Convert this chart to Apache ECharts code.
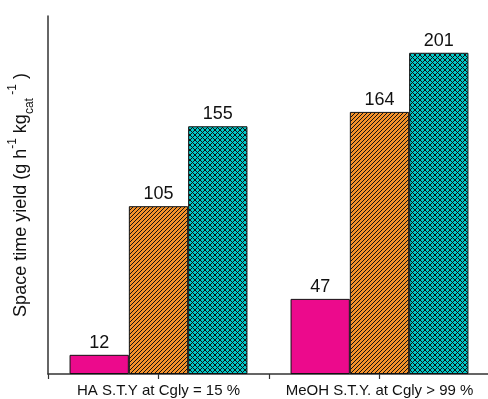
<!DOCTYPE html>
<html>
<head>
<meta charset="utf-8">
<script src="https://cdn.jsdelivr.net/npm/echarts@6/dist/echarts.min.js"></script>
<style>
  html, body { margin: 0; padding: 0; background: #fff; }
  #chart { width: 488px; height: 399px; }
</style>
</head>
<body>
<div id="chart"></div>
<script>
// Categories on the x axis
const categories = ['HA S.T.Y at Cgly = 15 %', 'MeOH S.T.Y. at Cgly > 99 %'];
// Space time yield per catalyst series
const seriesA = [12, 47];
const seriesB = [105, 164];
const seriesC = [155, 201];

const FONT = '"Liberation Sans", Arial, sans-serif';

// Tiled fill patterns for the hatched bars
function hatchPattern(bg, size, cross) {
  const c = document.createElement('canvas');
  c.width = size; c.height = size;
  const ctx = c.getContext('2d');
  ctx.fillStyle = bg;
  ctx.fillRect(0, 0, size, size);
  ctx.strokeStyle = '#111';
  ctx.lineWidth = 1;
  ctx.beginPath();
  // forward diagonals "/"
  ctx.moveTo(-1, size + 1); ctx.lineTo(size + 1, -1);
  ctx.moveTo(-1, 1); ctx.lineTo(1, -1);
  ctx.moveTo(size - 1, size + 1); ctx.lineTo(size + 1, size - 1);
  if (cross) {
    // back diagonals "\"
    ctx.moveTo(-1, -1); ctx.lineTo(size + 1, size + 1);
    ctx.moveTo(size - 1, -1); ctx.lineTo(size + 1, 1);
    ctx.moveTo(-1, size - 1); ctx.lineTo(1, size + 1);
  }
  ctx.stroke();
  return { image: c, repeat: 'repeat' };
}

const chart = echarts.init(document.getElementById('chart'), null, { renderer: 'canvas' });

const labelStyle = {
  show: true, position: 'top', distance: 3,
  fontFamily: FONT, fontSize: 18, color: '#111'
};
const border = { borderColor: '#111', borderWidth: 1 };

chart.setOption({
  animation: false,
  grid: { left: 48, top: 16, width: 442, height: 358, containLabel: false, outerBoundsMode: 'none' },
  xAxis: [{
    type: 'category',
    data: categories,
    axisLine: { lineStyle: { color: '#333', width: 1.5 } },
    axisTick: { show: false },
    axisLabel: { interval: 0, hideOverlap: false, fontFamily: FONT, fontSize: 15, color: '#111', margin: 9 }
  }, {
    // extra tick row: ticks at group edges and group centres
    type: 'category',
    position: 'bottom',
    data: ['a', 'b', 'c', 'd'],
    axisLine: { show: false },
    axisTick: { show: true, interval: 0, length: 5, lineStyle: { color: '#333', width: 1.2 } },
    axisLabel: { show: false }
  }],
  yAxis: {
    type: 'value',
    min: 0, max: 224,
    splitLine: { show: false },
    axisTick: { show: false },
    axisLabel: { show: false },
    axisLine: { show: true, lineStyle: { color: '#333', width: 1.5 } },
    name: '{n|Space time yield (g h}{sup|-1}{n| kg}{sub|cat}{sup| -1}{n| )}',
    nameLocation: 'middle',
    nameRotate: 90,
    nameGap: 15,
    nameTextStyle: {
      rich: {
        n: { fontFamily: FONT, fontSize: 18, color: '#111', lineHeight: 24, verticalAlign: 'middle' },
        sup: { fontFamily: FONT, fontSize: 12, color: '#111', lineHeight: 24, verticalAlign: 'top', padding: [-2, 0, 0, 0] },
        sub: { fontFamily: FONT, fontSize: 12, color: '#111', lineHeight: 24, verticalAlign: 'bottom', padding: [0, 0, -3, 0] }
      }
    }
  },
  series: [{
    type: 'bar', data: seriesA, barGap: '0%', barCategoryGap: '19.5%',
    itemStyle: Object.assign({ color: '#EC0A8C' }, border),
    label: labelStyle
  }, {
    type: 'bar', data: seriesB, barGap: '0%', barCategoryGap: '19.5%',
    itemStyle: Object.assign({ color: hatchPattern('#F5922A', 4, false) }, border),
    label: labelStyle
  }, {
    type: 'bar', data: seriesC, barGap: '0%', barCategoryGap: '19.5%',
    itemStyle: Object.assign({ color: hatchPattern('#00C8C8', 5, true) }, border),
    label: labelStyle
  }]
});
</script>
</body>
</html>
